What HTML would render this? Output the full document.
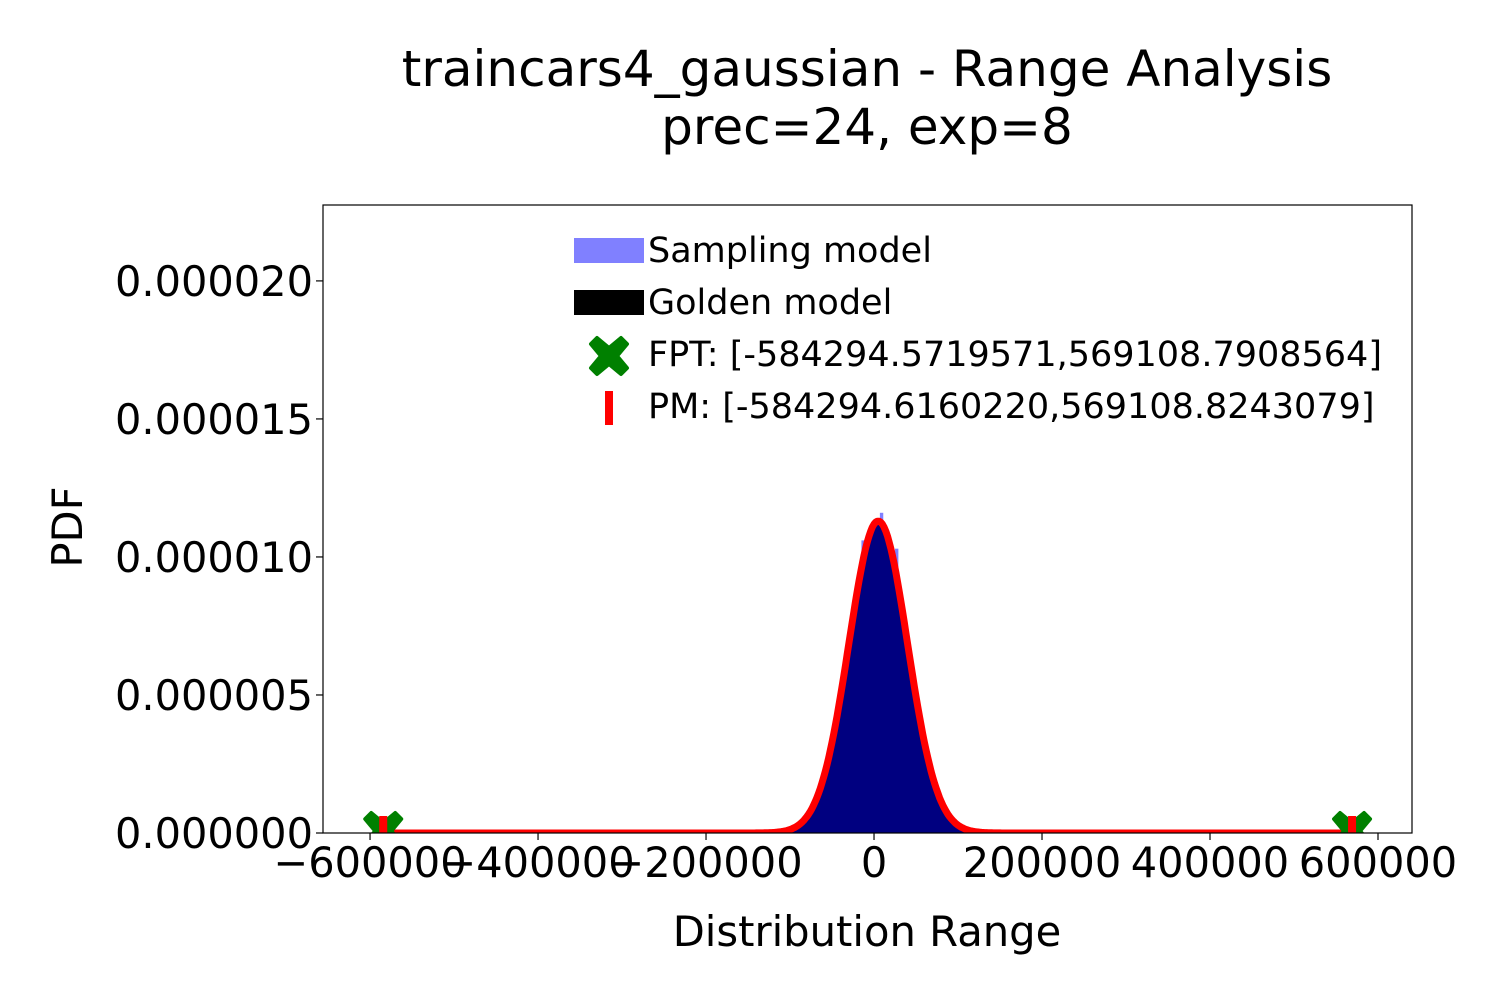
<!DOCTYPE html>
<html><head><meta charset="utf-8"><style>
body{margin:0;background:#fff}
svg text{font-family:"DejaVu Sans","Liberation Sans",sans-serif;fill:#000}
</style></head><body>
<svg id="chart" width="1500" height="1000" viewBox="0 0 1500 1000" xmlns="http://www.w3.org/2000/svg">
<text x="867" y="86" font-size="50" text-anchor="middle">traincars4_gaussian - Range Analysis</text>
<text x="867" y="144" font-size="50" text-anchor="middle">prec=24, exp=8</text>
<defs><clipPath id="plotclip"><rect x="323" y="205" width="1089" height="628"/></clipPath></defs>
<g id="plot" clip-path="url(#plotclip)"></g>
<rect x="323" y="205" width="1089" height="628" fill="none" stroke="#000" stroke-width="1.2"/>
<g id="axes"></g>
<text x="867" y="946" font-size="41.7" text-anchor="middle">Distribution Range</text>
<text transform="translate(82,527) rotate(-90)" font-size="41.7" text-anchor="middle">PDF</text>
<g>
<rect x="574" y="238" width="70" height="25" fill="#8080ff"/>
<text x="648" y="262" font-size="35">Sampling model</text>
<rect x="574" y="290" width="70" height="25" fill="#000"/>
<text x="648" y="314" font-size="35">Golden model</text>
<path d="M609,356 m-12,-18 l12,10 l12,-10 l6,6 l-10,12 l10,12 l-6,6 l-12,-10 l-12,10 l-6,-6 l10,-12 l-10,-12z" fill="#008000" stroke="#008000" stroke-width="4" stroke-linejoin="round"/>
<text x="648" y="366" font-size="35">FPT: [-584294.5719571,569108.7908564]</text>
<rect x="605" y="391" width="8" height="34" fill="#ff0000"/>
<text x="648" y="418" font-size="35">PM: [-584294.6160220,569108.8243079]</text>
</g>
</svg>
<script>
const xTicks=[-600000,-400000,-200000,0,200000,400000,600000];
const xTickLabels=["\u2212600000","\u2212400000","\u2212200000","0","200000","400000","600000"];
const yTicks=[0,0.000005,0.00001,0.000015,0.00002];
const yTickLabels=["0.000000","0.000005","0.000010","0.000015","0.000020"];
const gaussMean=[5000];
const gaussSigma=[35000];
const gaussPeak=[0.0000113];
const fptRange=[-584294.5719571,569108.7908564];
const pmRange=[-584294.6160220,569108.8243079];
const sampleBinCenters=[-13000,9000,27000];
const sampleBinValues=[0.0000106,0.0000116,0.0000103];

const NS="http://www.w3.org/2000/svg";
const X0=323,X1=1412,Y0=833,Y1=205;
const xmin=-656000,xmax=640476,ymin=0,ymax=0.00002275;
function sx(v){return X0+(v-xmin)/(xmax-xmin)*(X1-X0);}
function sy(v){return Y0-(v-ymin)/(ymax-ymin)*(Y0-Y1);}
function mk(tag,attrs,parent){const e=document.createElementNS(NS,tag);for(const k in attrs)e.setAttribute(k,attrs[k]);parent.appendChild(e);return e;}
const plot=document.getElementById('plot'),axes=document.getElementById('axes');
function pdf(x){return gaussPeak[0]*Math.exp(-0.5*Math.pow((x-gaussMean[0])/gaussSigma[0],2));}

const bw=4000;
sampleBinCenters.forEach((c,i)=>{
  const r=mk('rect',{x:sx(c-bw/2),y:sy(sampleBinValues[i]),width:sx(c+bw/2)-sx(c-bw/2),height:Y0-sy(sampleBinValues[i]),fill:'#8080ff'},plot);
  
  
});
let pts=[];
for(let x=xmin;x<=xmax;x+=2000)pts.push([sx(x),sy(pdf(x))]);
let area='M'+sx(gaussMean[0]-200000)+','+Y0;
pts.forEach(p=>{if(p[0]>=sx(gaussMean[0]-200000)&&p[0]<=sx(gaussMean[0]+200000))area+=' L'+p[0].toFixed(1)+','+p[1].toFixed(1);});
area+=' L'+sx(gaussMean[0]+200000)+','+Y0+'Z';
const ga=mk('path',{d:area,fill:'#000080'},plot);


const lx0=sx(pmRange[0]),lx1=sx(pmRange[1]);
let line='';
pts.forEach(p=>{if(p[0]>=lx0&&p[0]<=lx1)line+=(line?' L':'M')+p[0].toFixed(1)+','+p[1].toFixed(1);});
const pl=mk('path',{d:line,fill:'none',stroke:'#ff0000','stroke-width':7,'stroke-linejoin':'round'},plot);


fptRange.forEach(v=>{
  const cx=sx(v),cy=sy(0)-2;
  const m=mk('path',{d:`M${cx},${cy} m-12,-18 l12,10 l12,-10 l6,6 l-10,12 l10,12 l-6,6 l-12,-10 l-12,10 l-6,-6 l10,-12 l-10,-12z`,fill:'#008000',stroke:'#008000','stroke-width':4,'stroke-linejoin':'round'},plot);
  
  
});
pmRange.forEach(v=>{
  const m=mk('rect',{x:sx(v)-4,y:sy(0)-17,width:8,height:34,fill:'#ff0000'},plot);
  
  
});
xTicks.forEach((t,i)=>{
  const l=mk('line',{x1:sx(t),x2:sx(t),y1:Y0,y2:Y0+7,stroke:'#000','stroke-width':1.2},axes);
  
  
  const tx=mk('text',{x:sx(t),y:Y0+44,'font-size':41.5,'text-anchor':'middle'},axes);
  tx.textContent=xTickLabels[i];
  
  
});
yTicks.forEach((t,i)=>{
  const l=mk('line',{x1:X0-7,x2:X0,y1:sy(t),y2:sy(t),stroke:'#000','stroke-width':1.2},axes);
  
  
  const tx=mk('text',{x:X0-10,y:sy(t)+15,'font-size':41.5,'text-anchor':'end'},axes);
  tx.textContent=yTickLabels[i];
  
  
});
</script>
</body></html>
